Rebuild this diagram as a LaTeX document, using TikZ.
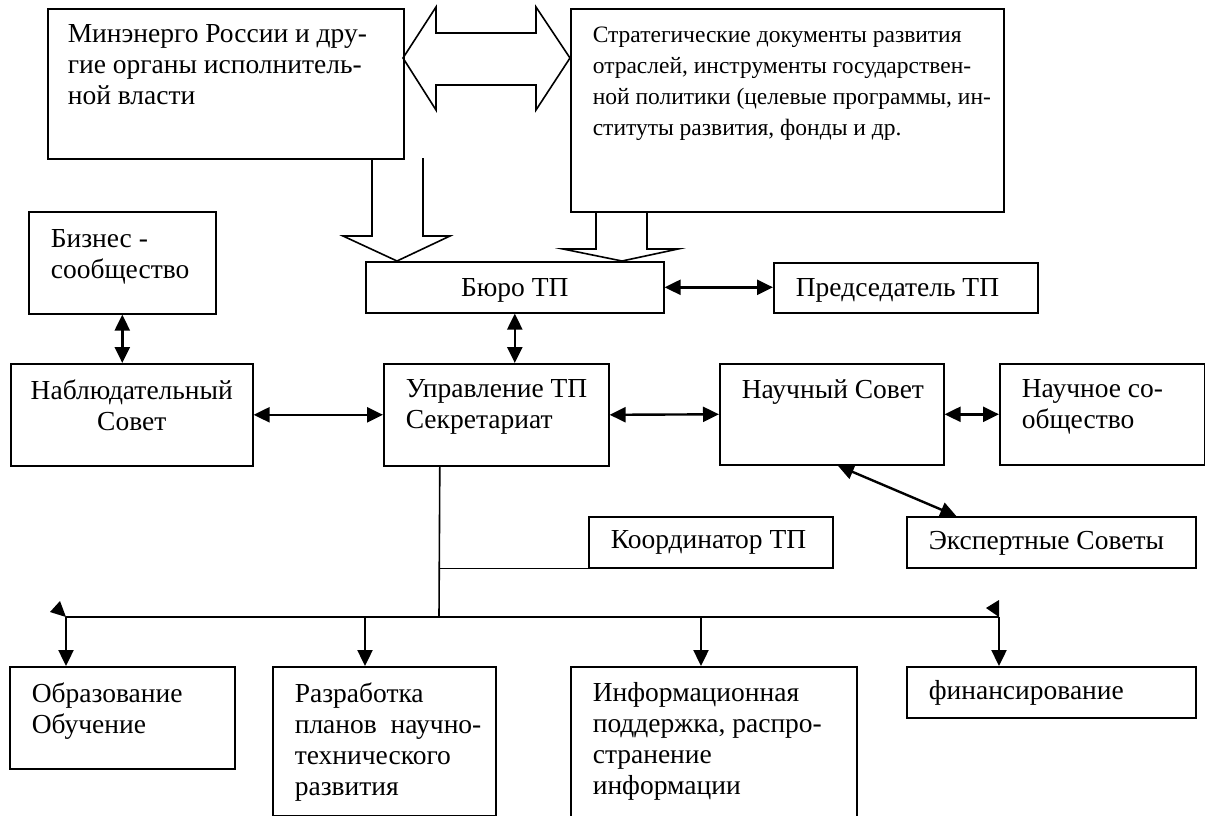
\documentclass[tikz,border=0pt]{standalone}
\usepackage{fontspec}
\setmainfont{Liberation Serif}
\usetikzlibrary{arrows.meta}

\begin{document}
\begin{tikzpicture}[x=1pt, y=-1pt, line width=1.6pt,
  font=\fontsize{27.5}{31}\selectfont,
  box/.style={draw, anchor=north west, inner sep=0pt},
  txt/.style={anchor=north west, align=left, inner sep=0pt},
  link/.style={line width=2.4pt, {Stealth[length=16pt, width=15pt, inset=0pt]}-{Stealth[length=16pt, width=15pt, inset=0pt]}},
  down/.style={line width=2.4pt, -{Stealth[length=16pt, width=15pt, inset=0pt]}}]
  \useasboundingbox (0,0) rectangle (1205,816);

  % верхние блоки
  \node[box, minimum width=356pt, minimum height=150pt] (minen) at (47,8) {};
  \node[txt] (minen-t) at ([shift={(20,16)}]minen.north west)
    {Минэнерго России и дру-\\гие органы исполнитель-\\ной власти};
  \node[box, minimum width=433pt, minimum height=203pt] (strat) at (570,8) {};
  \node[txt, font=\fontsize{23.5}{31}\selectfont] (strat-t) at ([shift={(22,18)}]strat.north west)
    {Стратегические документы развития\\отраслей, инструменты государствен-\\ной политики (целевые программы, ин-\\ституты развития, фонды и др.};

  % полые стрелки
  \draw (403,58) -- (436,7) -- (436,33) -- (536,33) -- (536,7) -- (570,58)
    -- (536,110) -- (536,85) -- (436,85) -- (436,110) -- cycle;
  \draw (372,158) -- (372,236) -- (343,236) -- (397,261) -- (450,236) -- (423,236) -- (423,158);
  \draw (596,211) -- (596,249) -- (563,249) -- (622,261) -- (678,249) -- (647,249) -- (647,211);

  % средний уровень
  \node[box, minimum width=187pt, minimum height=102pt] (biz) at (28,211) {};
  \node[txt] (biz-t) at ([shift={(22,18)}]biz.north west) {Бизнес -\\сообщество};
  \node[box, minimum width=298pt, minimum height=51pt] (buro) at (365,261) {};
  \node (buro-t) at ([yshift=-3pt]buro.center) {Бюро ТП};
  \node[box, minimum width=264pt, minimum height=50pt] (pred) at (773,262) {};
  \node[txt] (pred-t) at ([shift={(22,16)}]pred.north west) {Председатель ТП};

  \node[box, minimum width=242pt, minimum height=102pt] (nabl) at (10,363) {};
  \node[txt, anchor=north, align=center] (nabl-t) at ([shift={(0,16)}]nabl.north) {Наблюдательный\\Совет};
  \node[box, minimum width=225pt, minimum height=102pt] (upr) at (383,363) {};
  \node[txt] (upr-t) at ([shift={(22,16)}]upr.north west) {Управление ТП\\Секретариат};
  \node[box, minimum width=224pt, minimum height=101pt] (nauch) at (719,363) {};
  \node[txt] (nauch-t) at ([shift={(22,16)}]nauch.north west) {Научный Совет};
  \node[box, minimum width=205pt, minimum height=101pt] (nsoob) at (999,363) {};
  \node[txt] (nsoob-t) at ([shift={(22,16)}]nsoob.north west) {Научное со-\\общество};

  \node[box, minimum width=244pt, minimum height=51pt] (koord) at (588,516) {};
  \node[txt] (koord-t) at ([shift={(22,14)}]koord.north west) {Координатор ТП};
  \node[box, minimum width=289pt, minimum height=51pt] (expert) at (906,516) {};
  \node[txt] (expert-t) at ([shift={(22,14)}]expert.north west) {Экспертные Советы};

  % связи
  \draw[link] (biz.south) -- (biz.south |- nabl.north);
  \draw[link] (buro.south) -- (buro.south |- upr.north);
  \draw[link] (buro.east) -- (pred.west |- buro.east);
  \draw[link] (nabl.east) -- (upr.west);
  \draw[link] (upr.east) -- (nauch.west);
  \draw[link] (nauch.east) -- (nsoob.west);
  \draw[link] ([xshift=6pt]nauch.south) -- ([xshift=-95pt]expert.north);

  % нижние блоки
  \node[box, minimum width=225pt, minimum height=102pt] (edu) at (9,666) {};
  \node[txt] (edu-t) at ([shift={(22,16)}]edu.north west) {Образование\\Обучение};
  \node[box, minimum width=223pt, minimum height=149pt] (razr) at (272,666) {};
  \node[txt] (razr-t) at ([shift={(22,16)}]razr.north west)
    {Разработка\\планов~~научно-\\технического\\развития};
  \node[box, minimum width=286pt, minimum height=160pt] (inf) at (570,666) {};
  \node[txt] (inf-t) at ([shift={(22,16)}]inf.north west)
    {Информационная\\поддержка, распро-\\странение\\информации};
  \node[box, minimum width=289pt, minimum height=51pt] (fin) at (906,666) {};
  \node[txt] (fin-t) at ([shift={(22,14)}]fin.north west) {финансирование};

  % шина
  \coordinate (trunk) at ([xshift=-56.5pt]upr.south);
  \coordinate (bus) at (439,617);
  \draw (trunk) -- (bus);
  \draw (trunk |- koord.south) -- (koord.south west);
  \coordinate (busL) at (66,617);
  \coordinate (busR) at (999,617);
  \draw (busL) -- (busR);
  \fill (busL) -- (50,612) -- (60,601) -- cycle;
  \fill (busR) -- (986,608) -- (999,600) -- cycle;

  \foreach \n/\x in {edu/66, razr/365, inf/701, fin/999} {
    \coordinate (d\n) at (\x,617);
    \draw[down] (d\n) -- (d\n |- \n.north);
  }
\end{tikzpicture}
\end{document}
